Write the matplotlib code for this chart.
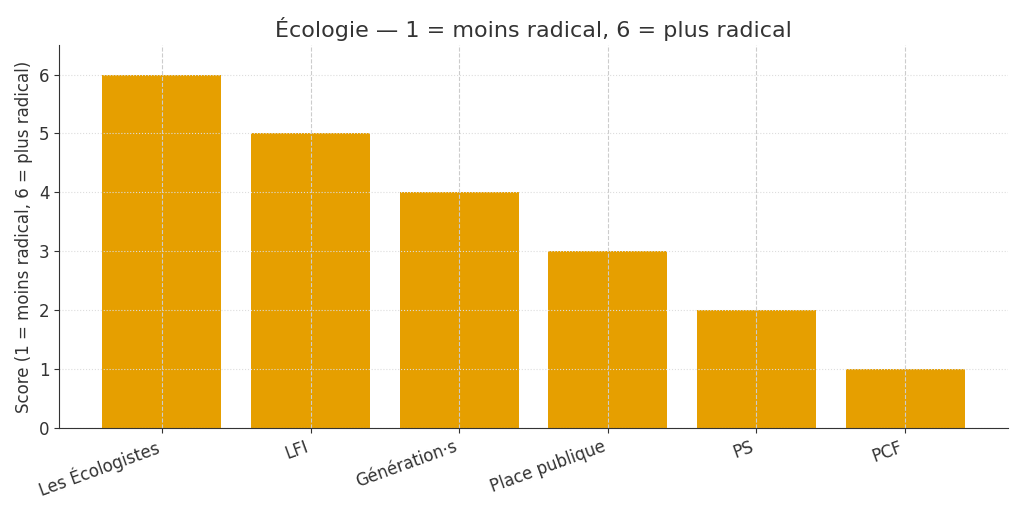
import matplotlib.pyplot as plt

partis = ["Les Écologistes", "LFI", "Génération·s", "Place publique", "PS", "PCF"]
scores = [6, 5, 4, 3, 2, 1]

fig, ax = plt.subplots(figsize=(10.24, 5.12), dpi=100)
ax.bar(partis, scores, color="#E69F00", width=0.8)

ax.set_title("Écologie — 1 = moins radical, 6 = plus radical", fontsize=16, color="#333333")
ax.set_ylabel("Score (1 = moins radical, 6 = plus radical)", fontsize=12, color="#333333")
ax.set_ylim(0, 6.5)
ax.tick_params(labelsize=12, colors="#333333")
plt.setp(ax.get_xticklabels(), rotation=20, ha="right")

ax.grid(True, axis="x", linestyle="--", color="#cccccc", linewidth=0.8)
ax.grid(True, axis="y", linestyle=":", color="#dddddd", linewidth=0.8)
ax.spines["top"].set_visible(False)
ax.spines["right"].set_visible(False)
for s in ["left", "bottom"]:
    ax.spines[s].set_color("#333333")

fig.subplots_adjust(left=0.058, right=0.984, top=0.912, bottom=0.164)
fig.savefig("out.png")
